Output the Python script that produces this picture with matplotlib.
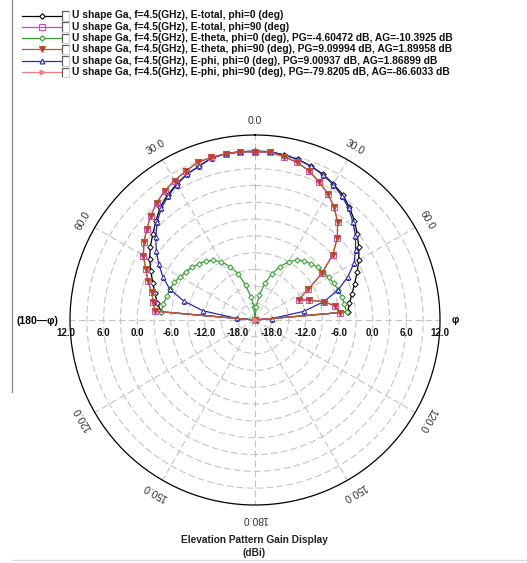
import numpy as np
import matplotlib
matplotlib.use("Agg")
from matplotlib import pyplot as plt

plt.rcParams['font.family'] = ['Liberation Sans', 'DejaVu Sans']

# elevation angle theta (deg); negative side is the (180-phi) half
theta_deg = np.arange(-90, 95, 5)

# gain values in dBi (-40 = below the plot floor)
etotal_phi0 = [-40, -4.2, -3.3, -2.5, -1.6, -0.5, 0.7, 1.8, 2.8, 4.0, 5.3, 6.2, 7.0, 7.7, 8.2, 8.9, 9.15, 9.15,
               9.15,
               9.15, 8.9, 8.65, 8.2, 7.7, 7.0, 6.3, 5.2, 4.1, 2.8, 1.6, 0.4, -0.9, -2.1, -3.1, -3.9, -4.4, -40]
etotal_phi90 = [-40, -3.1, -2.6, -1.9, -0.7, 0.5, 2.0, 3.2, 4.2, 5.3, 6.3, 7.1, 7.7, 8.3, 8.9, 9.05, 9.1, 9.1,
                9.05,
                9.05, 8.6, 8.1, 7.3, 6.1, 5.0, 3.6, 1.9, -0.2, -2.9, -6.4, -10.0, -12.4, -10.7, -8.3, -6.5, -5.8, -40]
etheta_phi0 = [-40, -4.2, -4.4, -4.7, -4.9, -5.1, -5.6, -6.0, -6.4, -6.8, -7.3, -8.0, -9.0, -10.5, -12.2, -14.6, -16.8, -18.6,
               -40,
               -18.6, -16.5, -14.2, -12.3, -10.5, -9.0, -7.9, -7.3, -6.8, -6.4, -6.1, -5.8, -5.5, -5.2, -5.0, -4.8, -4.6, -40]
etheta_phi90 = [-40, -3.1, -2.6, -1.9, -0.7, 0.5, 2.0, 3.2, 4.2, 5.3, 6.3, 7.1, 7.7, 8.3, 8.9, 9.05, 9.1, 9.1,
                9.05,
                9.05, 8.6, 8.1, 7.3, 6.1, 5.0, 3.6, 1.9, -0.2, -2.9, -6.4, -10.0, -12.4, -10.7, -8.3, -6.5, -5.8, -40]
ephi_phi0 = [-40, -17.8, -11.6, -7.8, -4.8, -2.9, -1.2, 0.5, 2.1, 3.7, 5.0, 6.0, 6.9, 7.7, 8.2, 8.9, 9.1, 9.1,
             9.0,
             9.1, 8.9, 8.65, 8.2, 7.6, 6.9, 6.0, 5.0, 3.7, 2.4, 0.9, -0.6, -2.7, -5.2, -8.2, -12.2, -18.0, -40]
ephi_phi90 = [-120, -97, -93, -90, -88, -86, -85, -84, -83, -82, -81.5, -81, -80.6, -80.3, -80.1, -79.9, -79.8, -79.8,
              -79.8,
              -79.8, -79.8, -79.9, -80.1, -80.3, -80.6, -81, -81.5, -82, -83, -84, -85, -86, -88, -90, -93, -97, -120]

labels = [
    "U shape Ga, f=4.5(GHz), E-total, phi=0 (deg)",
    "U shape Ga, f=4.5(GHz), E-total, phi=90 (deg)",
    "U shape Ga, f=4.5(GHz), E-theta, phi=0 (deg), PG=-4.60472 dB, AG=-10.3925 dB",
    "U shape Ga, f=4.5(GHz), E-theta, phi=90 (deg), PG=9.09994 dB, AG=1.89958 dB",
    "U shape Ga, f=4.5(GHz), E-phi, phi=0 (deg), PG=9.00937 dB, AG=1.86899 dB",
    "U shape Ga, f=4.5(GHz), E-phi, phi=90 (deg), PG=-79.8205 dB, AG=-86.6033 dB",
]
series = [etotal_phi0, etotal_phi90, etheta_phi0, etheta_phi90, ephi_phi0, ephi_phi90]
styles = [
    dict(color='black', marker='D', ms=2.8, mfc='white'),
    dict(color='#c050d0', marker='s', ms=4.0, mfc='none'),
    dict(color='#3a9a3a', marker='D', ms=2.8, mfc='#e8f5e0'),
    dict(color='#b8582a', marker='v', ms=3.8, mfc='#c83838'),
    dict(color='#2a2aa8', marker='^', ms=3.5, mfc='white'),
    dict(color='#f08080', marker='>', ms=3.5, mfc='#f08080'),
]

rmin, rmax = -21, 12

W, H = 527, 563
fig = plt.figure(figsize=(W / 100, H / 100), dpi=100)

# overlay in pixel coordinates for legend and frame lines
ov = fig.add_axes([0, 0, 1, 1])
ov.set_xlim(0, W)
ov.set_ylim(H, 0)
ov.axis('off')
ov.plot([12, 12], [0, 392], color='#909090', lw=1)
ov.plot([12, W], [560, 560], color='#dcdcdc', lw=1)

for i, (lab, st) in enumerate(zip(labels, styles)):
    y = 15.5 + i * 11.3
    ov.plot([22, 61], [y, y], color=st['color'], lw=0.9)
    ov.plot([42], [y], linestyle='none', marker=st['marker'], ms=st['ms'],
            mec=st['color'], mfc=st['mfc'], mew=0.8)
    # checkbox
    ov.plot([62, 62, 69], [y + 5, y - 4.5, y - 4.5], color='#606060', lw=0.9)
    ov.plot([69, 69, 62], [y - 4.5, y + 5, y + 5], color='#d0d0d0', lw=0.8)
    ov.text(72, y, lab, fontsize=7.35, fontweight='bold', va='center', ha='left', color='#111111')

cx, cy, R = 255, 320, 185
ax = fig.add_axes([(cx - R) / W, (H - cy - R) / H, 2 * R / W, 2 * R / H], projection='polar')
ax.set_theta_zero_location('N')
ax.set_theta_direction(-1)
ax.set_ylim(rmin, rmax)
ax.set_thetagrids(range(0, 360, 30), labels=[])
ax.set_rgrids(np.arange(-18, 12, 3), labels=[])
ax.grid(True, color='#c4c4c4', linestyle=(0, (6, 3)), linewidth=0.8)
ax.spines['polar'].set_color('black')
ax.spines['polar'].set_linewidth(0.9)

th = np.deg2rad(theta_deg)
order = [0, 2, 4, 1, 3, 5]
for i in order:
    st = styles[i]
    r = np.maximum(np.array(series[i]), rmin)
    ax.plot(th, r, color=st['color'], lw=0.9, marker=st['marker'], ms=st['ms'],
            mec=st['color'], mfc=st['mfc'], mew=0.7)

# radial value labels along the horizontal axis
for v in [12, 6, 0, -6, -12, -18]:
    for side in (-90, 90):
        dx = -3 if (v == 12 and side == -90) else 0
        ax.annotate(f"{v:.1f}", (np.deg2rad(side), v), xytext=(dx, -9), textcoords='offset points',
                    ha='center', va='center', fontsize=7, fontweight='bold', color='#111111')

# angle labels
for a in [0, 30, 60, 120, 150, 180, -30, -60, -120, -150]:
    ax.text(np.deg2rad(a), 14.5, f"{abs(a):.1f}", rotation=-a, rotation_mode='anchor',
            ha='center', va='center', fontsize=7.5, color='#333333', clip_on=False)

ov.text(37, 321, "(180\u2014\u03c6)", fontsize=7.5, fontweight='bold', ha='center', va='center')
ov.text(455, 320, "\u03c6", fontsize=7.5, fontweight='bold', ha='center', va='center')
ov.text(254, 540, "Elevation Pattern Gain Display", fontsize=7.3, fontweight='bold', ha='center', va='center',
        color='#222222')
ov.text(254, 553, "(dBi)", fontsize=7.3, fontweight='bold', ha='center', va='center', color='#222222')

fig.savefig("out.png", dpi=100)
